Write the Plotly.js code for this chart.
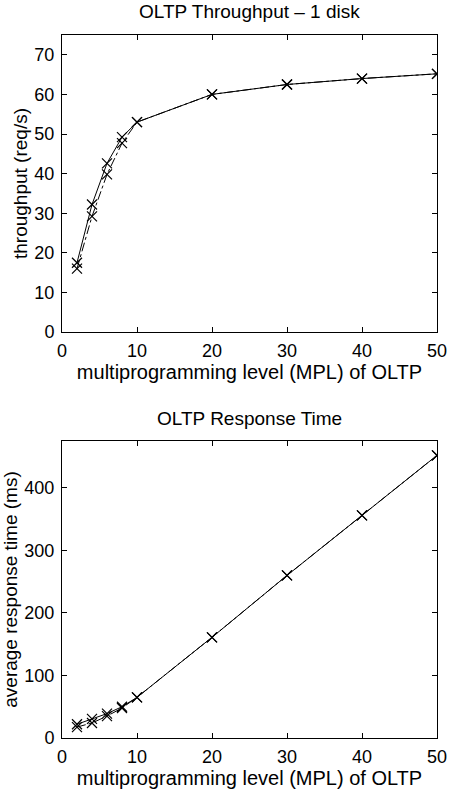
<!DOCTYPE html>
<html>
<head>
<meta charset="utf-8">
<script src="https://cdn.plot.ly/plotly-3.0.1.min.js"></script>
<style>html,body{margin:0;padding:0;background:#fff;}#chart{width:451px;height:794px;}</style>
</head>
<body>
<div id="chart"></div>
<script>
// MPL levels
var mpl = [2, 4, 6, 8, 10, 20, 30, 40, 50];
// Throughput (req/s)
var thrA = [17.5, 32.2, 42.6, 49.2, 53, 60, 62.5, 64, 65.2];
var thrB = [16, 29.2, 39.8, 47.7, 53, 60, 62.5, 64, 65.2];
// Response time (ms)
var rtA = [22, 30.5, 39, 50, 65, 161, 260, 356, 452];
var rtB = [17.5, 24, 35, 48, 65, 161, 260, 356, 452];

var xTicks = [0, 10, 20, 30, 40, 50];
var yTicksTop = [0, 10, 20, 30, 40, 50, 60, 70];
var yTicksBot = [0, 100, 200, 300, 400];

var FONT = 'Liberation Sans, Arial, Helvetica, sans-serif';
var mk = {symbol: 'x-thin-open', size: 10, color: '#000', line: {width: 1.2, color: '#000'}};

function tr(x, y, xa, ya, dash) {
  return {x: x, y: y, xaxis: xa, yaxis: ya, type: 'scatter', mode: 'lines+markers',
    line: {color: '#000', width: 1, dash: dash}, marker: mk, showlegend: false, hoverinfo: 'skip'};
}

var data = [
  tr(mpl, thrA, 'x', 'y', 'solid'),
  tr(mpl, thrB, 'x', 'y', 'dashdot'),
  tr(mpl, rtA, 'x2', 'y2', 'solid'),
  tr(mpl, rtB, 'x2', 'y2', 'dashdot')
];

function xax(anchor, titleText) {
  return {anchor: anchor, range: [0, 50], tickvals: xTicks, ticktext: xTicks.map(String),
    ticks: 'inside', ticklen: 5, tickcolor: '#000', showline: true, linecolor: '#000', linewidth: 1,
    mirror: 'ticks', showgrid: false, zeroline: false, tickfont: {family: FONT, size: 18, color: '#000'},
    ticklabelstandoff: 2,
    title: {text: titleText, font: {family: FONT, size: 20, color: '#000'}, standoff: 3}};
}
function yax(anchor, domain, range, ticks, titleText) {
  return {anchor: anchor, domain: domain, range: range, tickvals: ticks, ticktext: ticks.map(String),
    ticks: 'inside', ticklen: 5, tickcolor: '#000', showline: true, linecolor: '#000', linewidth: 1,
    mirror: 'ticks', showgrid: false, zeroline: false, tickfont: {family: FONT, size: 18, color: '#000'},
    ticklabelstandoff: 3,
    title: {text: titleText, font: {family: FONT, size: 19, color: '#000'}, standoff: 1}};
}

var layout = {
  width: 451, height: 794,
  margin: {l: 62, r: 13.5, t: 35, b: 56},
  paper_bgcolor: '#fff', plot_bgcolor: '#fff',
  font: {family: FONT, color: '#000'},
  xaxis: xax('y', 'multiprogramming level (MPL) of OLTP'),
  yaxis: yax('x', [0.5775, 1], [0, 75], yTicksTop, 'throughput (req/s)'),
  xaxis2: xax('y2', 'multiprogramming level (MPL) of OLTP'),
  yaxis2: yax('x2', [0, 0.4225], [0, 475], yTicksBot, 'average response time (ms)'),
  annotations: [
    {text: 'OLTP Throughput \u2013 1 disk', xref: 'paper', yref: 'paper', x: 0.5, y: 1.033,
     xanchor: 'center', yanchor: 'middle', showarrow: false, font: {family: FONT, size: 19, color: '#000'}},
    {text: 'OLTP Response Time', xref: 'paper', yref: 'paper', x: 0.5, y: 0.455,
     xanchor: 'center', yanchor: 'middle', showarrow: false, font: {family: FONT, size: 19, color: '#000'}}
  ]
};

Plotly.newPlot('chart', data, layout, {displayModeBar: false, staticPlot: true});
</script>
</body>
</html>
